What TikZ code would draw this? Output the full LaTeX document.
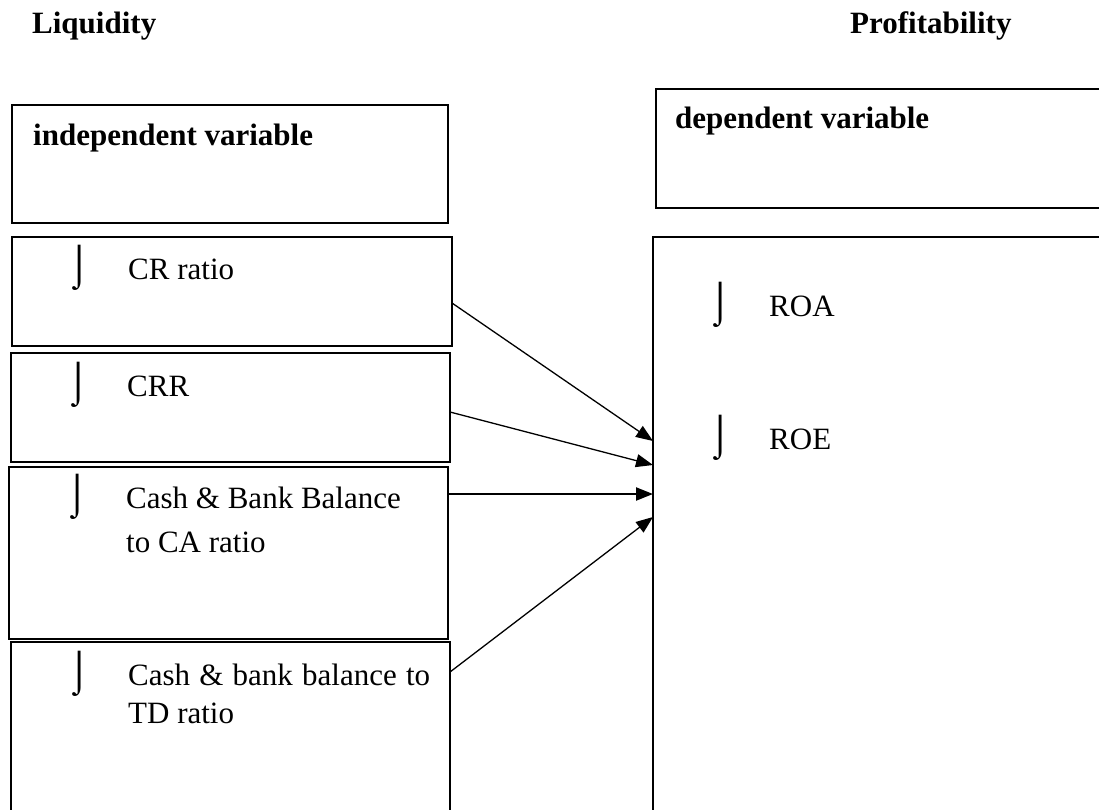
\documentclass[tikz,border=0pt]{standalone}
\usepackage{fontspec}
\setmainfont{Liberation Serif}
\usetikzlibrary{arrows.meta,calc}
\begin{document}
\begin{tikzpicture}[x=1pt,y=-1pt,
 box/.style={draw,line width=1.4pt,anchor=north west,inner sep=0pt,outer sep=0pt},
 txt/.style={anchor=base west,inner sep=0pt,font=\fontsize{31}{37}\selectfont},
 hd/.style={anchor=base west,inner sep=0pt,font=\fontsize{31}{37}\selectfont\bfseries},
 bul/.style={anchor=base west,inner sep=0pt,font=\fontsize{40}{44}\selectfont},
 arr/.style={-{Triangle[length=17pt,width=13pt]},line width=1.3pt}]
\useasboundingbox (0,0) rectangle (1099,809);
\clip (0,0) rectangle (1099,809);
% headings
\node[hd] (liq) at (32,33) {Liquidity};
\node[hd] (prof) at (850,33) {Profitability};
% left boxes
\node[box,minimum width=436pt,minimum height=118pt] (b1) at (12,105) {};
\node[box,minimum width=440pt,minimum height=109pt] (b2) at (12,237) {};
\node[box,minimum width=439pt,minimum height=109pt] (b3) at (11,353) {};
\node[box,minimum width=439pt,minimum height=172pt] (b4) at (9,467) {};
\node[box,minimum width=439pt,minimum height=200pt] (b5) at (11,642) {};
% right boxes
\node[box,minimum width=480pt,minimum height=119pt] (r1) at (656,89) {};
\node[box,minimum width=480pt,minimum height=600pt] (r2) at (653,237) {};
% box texts
\node[hd] (indep) at (33,145) {independent variable};
\node[hd] (dep) at (675,128) {dependent variable};
\node[bul] (k1) at (67,278) {⌡};
\node[txt] (t1) at (128,279) {CR ratio};
\node[bul] (k2) at (66,395) {⌡};
\node[txt] (t2) at (127,396) {CRR};
\node[bul] (k3) at (65,507) {⌡};
\node[txt] (t3a) at (126,508) {Cash \& Bank Balance};
\node[txt] (t3b) at (126,552) {to CA ratio};
\node[bul] (k4) at (67,684) {⌡};
\node[txt] (t4a) at (128,685) {\makebox[302pt][s]{Cash \& bank balance to}};
\node[txt] (t4b) at (128,723) {TD ratio};
\node[bul] (k5) at (708,315) {⌡};
\node[txt] (roa) at (769,316) {ROA};
\node[bul] (k6) at (708,448) {⌡};
\node[txt] (roe) at (769,449) {ROE};
% arrows
\draw[arr] (b2.east |- 0,303) -- (r2.west |- 0,441);
\draw[arr] (b3.east |- 0,412) -- (r2.west |- 0,465);
\draw[arr,line width=2.2pt] (b4.east |- 0,494) -- (r2.west |- 0,494);
\draw[arr] (b5.east |- 0,672) -- (r2.west |- 0,517);
\end{tikzpicture}
\end{document}
